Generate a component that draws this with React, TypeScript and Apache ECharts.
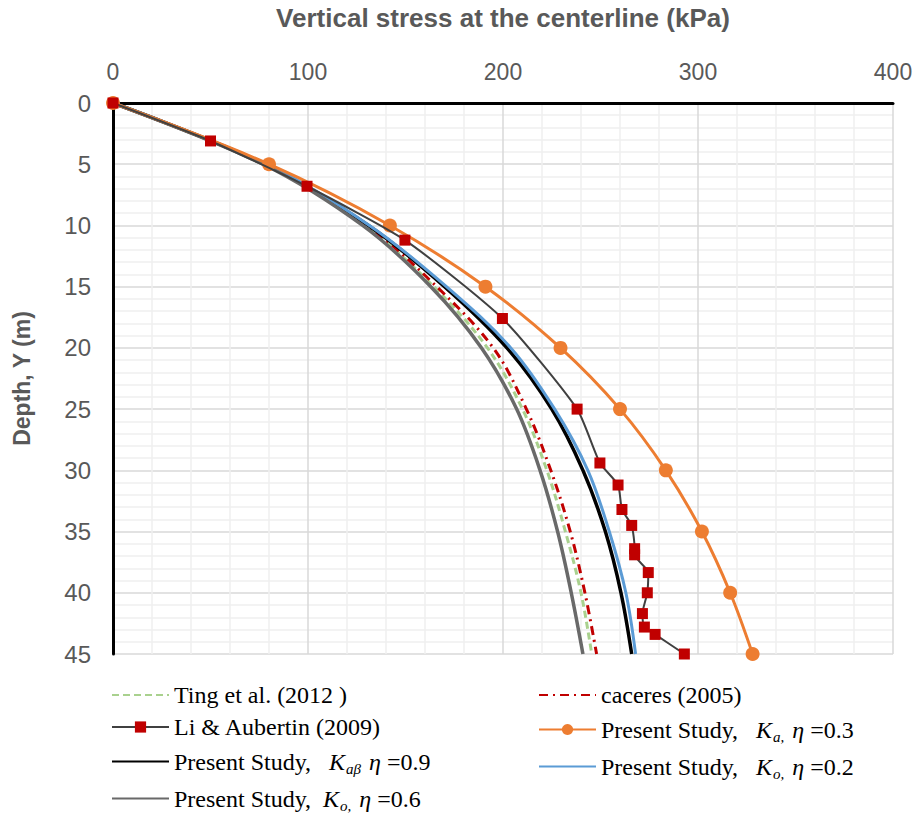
import React, { useEffect, useRef } from "react";
import * as echarts from "echarts";

// Depth (m) sampling for the smooth curves
const depths = [0, 5, 10, 15, 20, 25, 30, 35, 40, 45];
// Vertical stress (kPa)
const tingStress = [0, 77.5, 129, 164.5, 192, 210, 222.5, 232, 240, 245.5];
const caceresStress = [0, 78, 130, 166, 195, 212, 224.5, 234.5, 242, 248];
const ka03Stress = [0, 80, 142, 191, 229.5, 260, 283.5, 302, 316.5, 328];
const kab09Stress = [0, 78, 131, 170, 202, 225, 241, 252.5, 260.5, 266];
const ko02Stress = [0, 78.5, 131.5, 171, 204, 226.5, 243.5, 254.5, 263, 268];
const ko06Stress = [0, 77, 128, 163, 189, 207, 219, 228, 235, 241];

// Li & Aubertin (2009)
const liDepth = [0, 3.1, 6.8, 11.2, 17.6, 25, 29.4, 31.2, 33.2, 34.5, 36.4, 36.9, 38.35, 40, 41.7, 42.8, 43.4, 45];
const liStress = [0, 50, 99.5, 149.7, 199.7, 238, 249.7, 259, 261, 266, 267.5, 267.5, 274.5, 274, 271.5, 272.5, 278, 293];

const xTicks = [0, 100, 200, 300, 400];
const yTicks = [0, 5, 10, 15, 20, 25, 30, 35, 40, 45];

const pairs = (xs: number[], ys: number[]) => xs.map((x, i) => [x, ys[i]]);

export default function App() {
  const ref = useRef<HTMLDivElement>(null);
  useEffect(() => {
    if (!ref.current) return;
    const chart = echarts.init(ref.current, null, { renderer: "svg" });
    const serif = "'Liberation Serif', 'Times New Roman', serif";
    const sans = "'Liberation Sans', Arial, sans-serif";
    const labels: Record<string, string> = {
      ting: "{t|Ting et al. (2012 )}",
      caceres: "{t|caceres (2005)}",
      li: "{t|Li & Aubertin (2009)}",
      ka03: "{t|Present Study,   }{k|K}{s|a,}{k| η}{t| =0.3}",
      kab09: "{t|Present Study,   }{k|K}{s|aβ}{k| η}{t| =0.9}",
      ko02: "{t|Present Study,   }{k|K}{s|o,}{k| η}{t| =0.2}",
      ko06: "{t|Present Study,  }{k|K}{s|o,}{k| η}{t| =0.6}",
    };
    const rich = {
      t: { fontFamily: serif, fontSize: 24, color: "#000", lineHeight: 26 },
      k: { fontFamily: serif, fontSize: 24, fontStyle: "italic", color: "#000", lineHeight: 26 },
      s: { fontFamily: serif, fontSize: 15, fontStyle: "italic", color: "#000", lineHeight: 26, padding: [14, 2, 0, 1] },
    };
    const legendBase = {
      orient: "vertical" as const,
      itemGap: 8,
      itemWidth: 57,
      itemHeight: 14,
      top: 678,
      height: 170,
      formatter: (n: string) => labels[n],
      textStyle: { rich, padding: [0, 0, 0, 0] },
      selectedMode: false,
    };
    const noMarker = { itemStyle: { opacity: 0 } };
    const yTickSet = new Set(yTicks);
    const xTickSet = new Set(xTicks);
    chart.setOption({
      animation: false,
      backgroundColor: "#fff",
      grid: { left: 113, right: 24, top: 103, bottom: 167, outerBoundsMode: "none", containLabel: false },
      legend: [
        {
          ...legendBase,
          left: 106,
          data: [
            { name: "ting", ...noMarker },
            { name: "li" },
            { name: "kab09", ...noMarker },
            { name: "ko06", ...noMarker },
          ],
        },
        {
          ...legendBase,
          left: 533,
          data: [{ name: "caceres", ...noMarker }, { name: "ka03" }, { name: "ko02", ...noMarker }],
        },
      ],
      xAxis: {
        type: "value",
        position: "top",
        min: 0,
        max: 400,
        interval: 100,
        name: "Vertical stress at the centerline (kPa)",
        nameLocation: "middle",
        nameGap: 72,
        nameTextStyle: { fontFamily: sans, fontSize: 26, fontWeight: "bold", color: "#595959" },
        axisLine: { show: true, onZero: false, lineStyle: { color: "#000", width: 3 } },
        axisTick: { show: false },
        axisLabel: {
          fontFamily: sans,
          fontSize: 23,
          color: "#595959",
          margin: 20,
          formatter: (v: number) => (xTickSet.has(v) ? String(v) : ""),
        },
        splitLine: { show: true, lineStyle: { color: "#d9d9d9", width: 1.5 } },
        minorTick: { show: false, splitNumber: 5 },
        minorSplitLine: { show: true, lineStyle: { color: "#efefef", width: 1.5 } },
      },
      yAxis: {
        type: "value",
        inverse: true,
        min: 0,
        max: 45,
        interval: 5,
        name: "Depth, Y (m)",
        nameLocation: "middle",
        nameGap: 80,
        nameTextStyle: { fontFamily: sans, fontSize: 23, fontWeight: "bold", color: "#595959" },
        axisLine: { show: true, onZero: false, lineStyle: { color: "#000", width: 3 } },
        axisTick: { show: false },
        axisLabel: {
          fontFamily: sans,
          fontSize: 24,
          color: "#595959",
          margin: 22,
          formatter: (v: number) => (yTickSet.has(v) ? String(v) : ""),
        },
        splitLine: { show: true, lineStyle: { color: "#d9d9d9", width: 1.5 } },
        minorTick: { show: false, splitNumber: 5 },
        minorSplitLine: { show: true, lineStyle: { color: "#efefef", width: 1.5 } },
      },
      series: [
        {
          name: "ting",
          type: "line",
          data: pairs(tingStress, depths),
          smooth: 0.35,
          symbol: "none",
          lineStyle: { color: "#A9D18E", width: 3, type: [7, 4] },
          itemStyle: { color: "#A9D18E" },
        },
        {
          name: "caceres",
          type: "line",
          data: pairs(caceresStress, depths),
          smooth: 0.35,
          symbol: "none",
          lineStyle: { color: "#C00000", width: 3, type: [9, 5, 2, 5] },
          itemStyle: { color: "#C00000" },
        },
        {
          name: "li",
          type: "line",
          data: pairs(liStress, liDepth),
          smooth: 0.2,
          symbol: "rect",
          symbolSize: 11,
          lineStyle: { color: "#404040", width: 2 },
          itemStyle: { color: "#C00000" },
          z: 5,
        },
        {
          name: "ka03",
          type: "line",
          data: pairs(ka03Stress, depths),
          smooth: 0.35,
          symbol: "circle",
          symbolSize: 14,
          lineStyle: { color: "#ED7D31", width: 3 },
          itemStyle: { color: "#ED7D31" },
          z: 4,
        },
        {
          name: "kab09",
          type: "line",
          data: pairs(kab09Stress, depths),
          smooth: 0.35,
          symbol: "none",
          lineStyle: { color: "#000000", width: 3.5 },
          itemStyle: { color: "#000000" },
        },
        {
          name: "ko02",
          type: "line",
          data: pairs(ko02Stress, depths),
          smooth: 0.35,
          symbol: "none",
          lineStyle: { color: "#5B9BD5", width: 3 },
          itemStyle: { color: "#5B9BD5" },
        },
        {
          name: "ko06",
          type: "line",
          data: pairs(ko06Stress, depths),
          smooth: 0.35,
          symbol: "none",
          lineStyle: { color: "#696969", width: 3.5 },
          itemStyle: { color: "#696969" },
        },
      ],
    });
    return () => chart.dispose();
  }, []);
  return (
    <div
      ref={ref}
      style={{ position: "fixed", left: 0, top: 0, width: 917, height: 821, background: "#fff" }}
    />
  );
}
